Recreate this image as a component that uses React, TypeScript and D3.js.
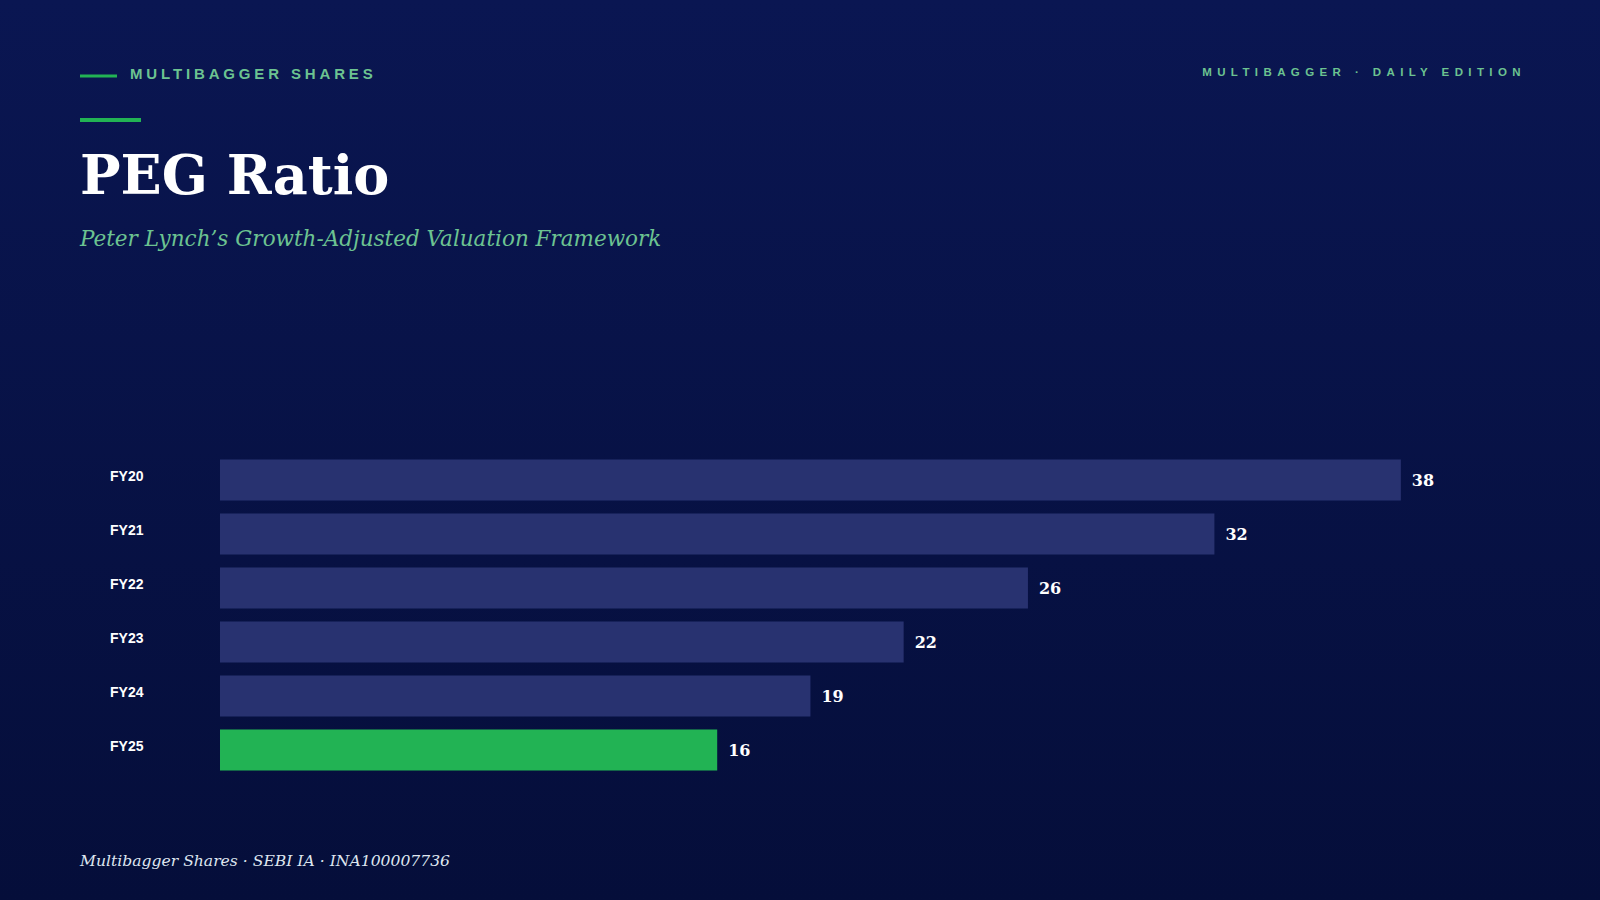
import React from 'react';
import * as d3 from 'd3';

const years = ['FY20', 'FY21', 'FY22', 'FY23', 'FY24', 'FY25'];
const values = [38, 32, 26, 22, 19, 16];
const highlight = 'FY25';

const W = 1600;
const H = 900;

export default function App() {
  const x = d3.scaleLinear().domain([0, 40]).range([220, 1463]);
  const y = d3.scaleBand().domain(years).range([453, 777]).paddingInner(0.24).paddingOuter(0.12);

  const serif = 'Georgia, "DejaVu Serif", serif';
  const sans = 'Helvetica, Arial, "Liberation Sans", sans-serif';

  return (
    <div style={{ position: 'fixed', left: 0, top: 0, width: W, height: H }}>
      <svg width={W} height={H} viewBox={`0 0 ${W} ${H}`}>
        <defs>
          <linearGradient id="bg" x1="0" y1="0" x2="0" y2="1">
            <stop offset="0" stopColor="#0a1652" />
            <stop offset="1" stopColor="#050e3a" />
          </linearGradient>
        </defs>
        <rect width={W} height={H} fill="url(#bg)" />

        {/* header */}
        <line x1={80} x2={117} y1={76} y2={76} stroke="#22b354" strokeWidth={3} />
        <text x={130} y={79} fill="#6cc391" fontFamily={sans} fontWeight="bold" fontSize={15}
              letterSpacing="3.85px">MULTIBAGGER SHARES</text>
        <text x={1526} y={76} textAnchor="end" fill="#6cc391" fontFamily={sans} fontWeight="bold"
              fontSize={11.5} letterSpacing="5.4px">MULTIBAGGER · DAILY EDITION</text>

        <rect x={80} y={118} width={61} height={4} fill="#22b354" />
        <text x={80} y={194} fill="#ffffff" fontFamily={serif} fontWeight="bold" fontSize={54}>PEG Ratio</text>
        <text x={80} y={246} fill="#6cc391" fontFamily={serif} fontStyle="italic" fontSize={21.5}>
          Peter Lynch’s Growth-Adjusted Valuation Framework
        </text>

        {/* bars */}
        {years.map((yr, i) => (
          <g key={yr}>
            <text x={110} y={(y(yr) as number) + y.bandwidth() / 2 + 1} fill="#ffffff" fontFamily={sans}
                  fontWeight="bold" fontSize={14}>{yr}</text>
            <rect x={x(0)} y={y(yr)} width={x(values[i]) - x(0)} height={y.bandwidth()}
                  fill={yr === highlight ? '#22b354' : '#283270'} />
            <text x={x(values[i]) + 11} y={(y(yr) as number) + y.bandwidth() / 2 + 6} fill="#ffffff"
                  fontFamily={serif} fontWeight="bold" fontSize={16}>{values[i]}</text>
          </g>
        ))}

        {/* footer */}
        <text x={80} y={866} fill="#dfe6f0" fontFamily={serif} fontStyle="italic" fontSize={15.6}>
          Multibagger Shares · SEBI IA · INA100007736
        </text>
      </svg>
    </div>
  );
}
